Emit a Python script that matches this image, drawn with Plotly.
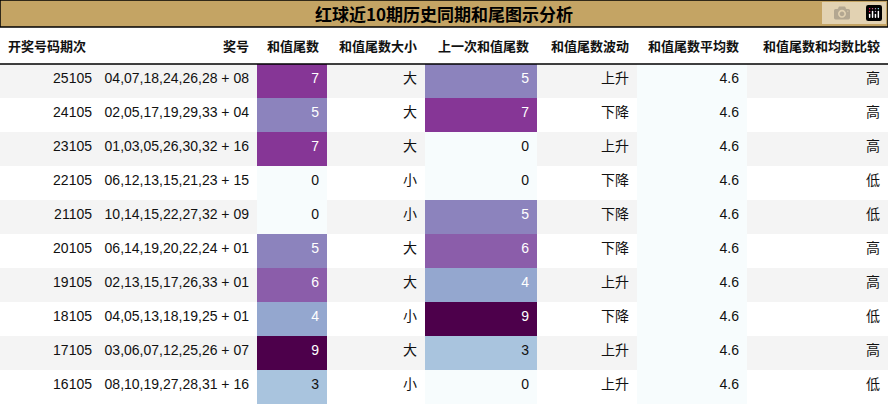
import plotly.graph_objects as go
from plotly.colors import sample_colorscale

title = '红球近10期历史同期和尾图示分析'
headers = ['开奖号码期次', '奖号', '和值尾数', '和值尾数大小', '上一次和值尾数', '和值尾数波动', '和值尾数平均数', '和值尾数和均数比较']
periods = ['25105', '24105', '23105', '22105', '21105', '20105', '19105', '18105', '17105', '16105']
numbers = ['04,07,18,24,26,28 + 08', '02,05,17,19,29,33 + 04', '01,03,05,26,30,32 + 16',
           '06,12,13,15,21,23 + 15', '10,14,15,22,27,32 + 09', '06,14,19,20,22,24 + 01',
           '02,13,15,17,26,33 + 01', '04,05,13,18,19,25 + 01', '03,06,07,12,25,26 + 07',
           '08,10,19,27,28,31 + 16']
tail = [7, 5, 7, 0, 0, 5, 6, 4, 9, 3]
size = ['大', '大', '大', '小', '小', '大', '大', '小', '大', '小']
prev_tail = [5, 7, 0, 0, 5, 6, 4, 9, 3, 0]
trend = ['上升', '下降', '上升', '下降', '下降', '下降', '上升', '下降', '上升', '上升']
avg = [4.6] * 10
compare = ['高', '高', '高', '低', '低', '高', '高', '低', '高', '低']

n = len(periods)
row_bg = ['#f4f4f4' if i % 2 == 0 else '#ffffff' for i in range(n)]


def heat(vals):
    return sample_colorscale('BuPu', [v / 9 for v in vals])


def txt_col(vals):
    return ['#ffffff' if v >= 4 else '#111111' for v in vals]


fills = [row_bg, row_bg, heat(tail), row_bg, heat(prev_tail), row_bg, ['#f7fcfd'] * n, row_bg]
fcols = [['#111111'] * n, ['#111111'] * n, txt_col(tail), ['#111111'] * n, txt_col(prev_tail),
         ['#111111'] * n, ['#111111'] * n, ['#111111'] * n]
numbers_nb = [s.replace(' ', '\u00a0') for s in numbers]

fig = go.Figure(go.Table(
    columnwidth=[100, 157, 70, 98, 112, 100, 110, 141],
    domain=dict(x=[0, 1], y=[0, 1 - 28 / 405]),
    header=dict(values=['<b>%s</b>' % h for h in headers], height=36,
                align=['left'] + ['right'] * 7, fill_color='white', line_width=0,
                font=dict(family='Noto Sans CJK SC', size=13, color='#111111')),
    cells=dict(values=[periods, numbers_nb, tail, size, prev_tail, trend, avg, compare],
               height=34, align='right', fill_color=fills, line_width=0,
               font=dict(family='Liberation Sans, Noto Sans CJK SC', size=14, color=fcols)),
))
fig.add_shape(type='rect', xref='paper', yref='paper', x0=0, x1=1, y0=1 - 27 / 405, y1=1,
              fillcolor='#c4a464', line=dict(color='black', width=1.5))
fig.add_shape(type='line', xref='paper', yref='paper', x0=0, x1=1,
              y0=1 - 64 / 405, y1=1 - 64 / 405, line=dict(color='black', width=1.5))
fig.add_annotation(text='<b>%s</b>' % title, x=0.5, y=1 - 14 / 405, xref='paper', yref='paper',
                   xanchor='center', yanchor='middle', showarrow=False,
                   font=dict(family='Noto Sans CJK SC', size=17, color='black'))
fig.update_layout(width=888, height=405, margin=dict(l=0, r=0, t=0, b=0), paper_bgcolor='white')
fig.write_html('out.html', post_script="document.body.style.margin='0';")
